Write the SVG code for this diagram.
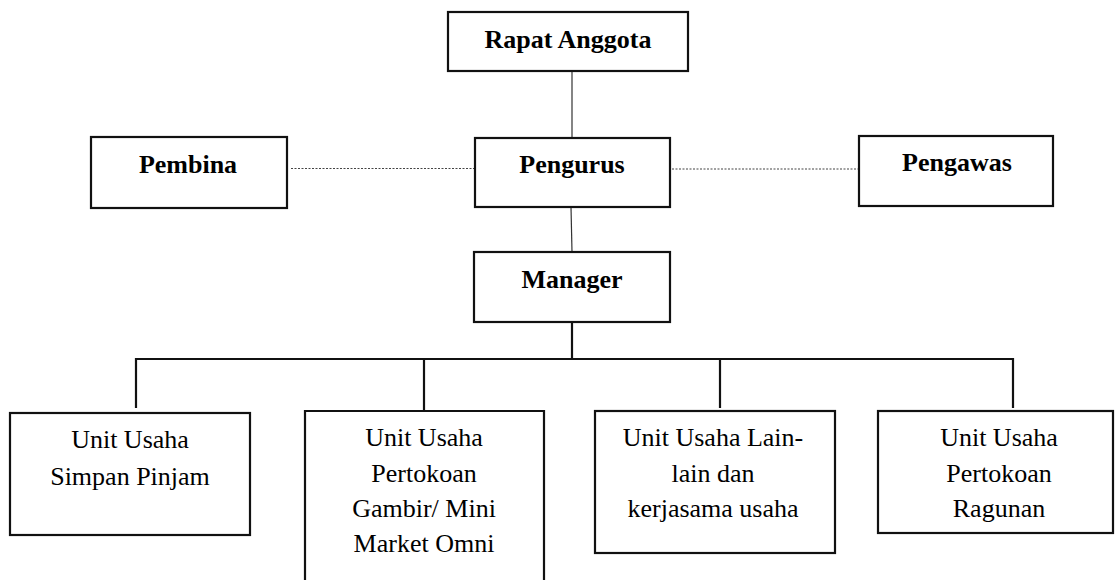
<svg xmlns="http://www.w3.org/2000/svg" width="1116" height="580" viewBox="0 0 1116 580">
<style>
.box{fill:#fff;stroke:#111;stroke-width:2.2}
text{font-family:'Liberation Serif','Times New Roman',Times,serif;font-size:26px;fill:#000;text-anchor:middle}
.b{font-weight:bold}
.thin{stroke:#333;stroke-width:1.2;fill:none}
.dot{stroke:#444;stroke-width:1.2;stroke-dasharray:2 1.5;fill:none}
.bus{stroke:#111;stroke-width:2.2;fill:none}
</style>
<rect width="1116" height="580" fill="#fff"/>
<g id="connectors">
<line class="thin" x1="572" y1="71" x2="572" y2="138"/>
<line class="thin" x1="571" y1="207" x2="572" y2="252"/>
<line class="dot" x1="291" y1="168.5" x2="475" y2="168.5"/>
<line class="dot" x1="672" y1="169" x2="859" y2="169"/>
<line class="bus" x1="572" y1="322" x2="572" y2="359"/>
<polyline class="bus" points="136,408 136,359 1013,359 1013,408"/>
<line class="bus" x1="424" y1="359" x2="424" y2="411"/>
<line class="bus" x1="720" y1="359" x2="720" y2="408"/>
</g>
<g id="rapat-anggota">
<rect class="box" x="448" y="12" width="240" height="59"/>
<text class="b" x="568" y="48" font-family="Liberation Serif">Rapat Anggota</text>
</g>
<g id="pembina">
<rect class="box" x="91" y="137" width="196" height="71"/>
<text class="b" x="188" y="173" font-family="Liberation Serif">Pembina</text>
</g>
<g id="pengurus">
<rect class="box" x="475" y="138" width="195" height="69"/>
<text class="b" x="572" y="173" font-family="Liberation Serif">Pengurus</text>
</g>
<g id="pengawas">
<rect class="box" x="859" y="136" width="194" height="70"/>
<text class="b" x="957" y="171" font-family="Liberation Serif">Pengawas</text>
</g>
<g id="manager">
<rect class="box" x="474" y="252" width="196" height="70"/>
<text class="b" x="572" y="288" font-family="Liberation Serif">Manager</text>
</g>
<g id="unit-simpan-pinjam">
<rect class="box" x="10" y="413" width="240" height="122"/>
<text x="130" y="448" font-family="Liberation Serif">Unit Usaha</text>
<text x="130" y="485" font-family="Liberation Serif">Simpan Pinjam</text>
</g>
<g id="unit-gambir">
<path class="box" d="M305,582 L305,411 L544,411 L544,582"/>
<text x="424" y="446" font-family="Liberation Serif">Unit Usaha</text>
<text x="424" y="482" font-family="Liberation Serif">Pertokoan</text>
<text x="424" y="517" font-family="Liberation Serif">Gambir/ Mini</text>
<text x="424" y="552" font-family="Liberation Serif">Market Omni</text>
</g>
<g id="unit-lain">
<rect class="box" x="595" y="411" width="240" height="142"/>
<text x="713" y="446" font-family="Liberation Serif">Unit Usaha Lain-</text>
<text x="713" y="482" font-family="Liberation Serif">lain dan</text>
<text x="713" y="517" font-family="Liberation Serif">kerjasama usaha</text>
</g>
<g id="unit-ragunan">
<rect class="box" x="878" y="411" width="235" height="122"/>
<text x="999" y="446" font-family="Liberation Serif">Unit Usaha</text>
<text x="999" y="482" font-family="Liberation Serif">Pertokoan</text>
<text x="999" y="517" font-family="Liberation Serif">Ragunan</text>
</g>
</svg>
